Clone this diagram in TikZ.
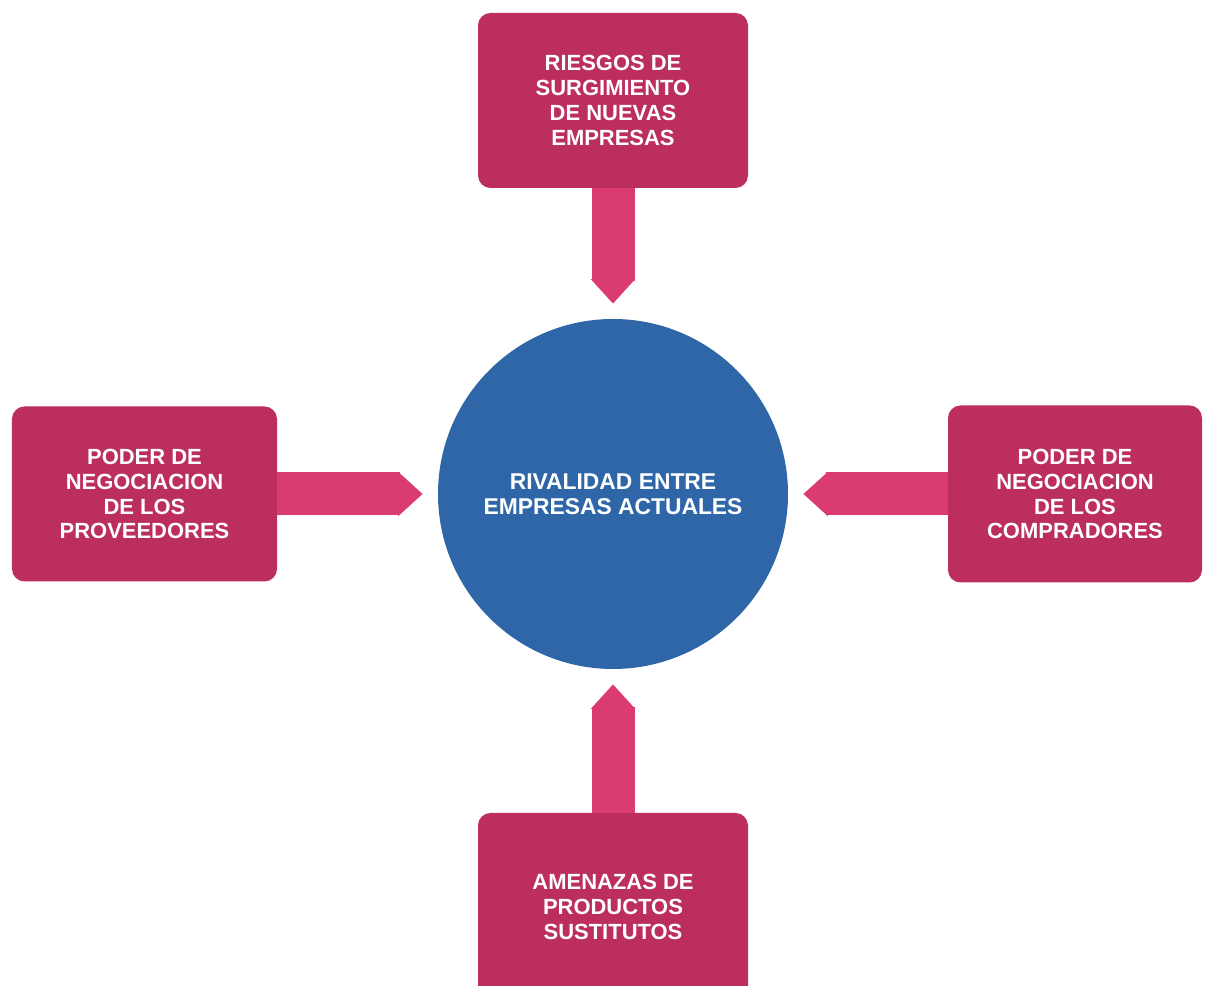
\documentclass[tikz,border=0pt]{standalone}
\usepackage{fontspec}
\setmainfont{Liberation Sans}
\usetikzlibrary{arrows.meta,positioning}
\definecolor{forcered}{HTML}{BC2E5C}
\definecolor{forcepink}{HTML}{DA3B70}
\definecolor{rivalblue}{HTML}{2F66A8}

\begin{document}
\begin{tikzpicture}[
    forcebox/.style={draw=none, fill=forcered, rounded corners=0.25cm, text=white,
        align=center, inner sep=0pt, font=\bfseries\fontsize{12.5}{14.2}\selectfont},
    force/.style={draw=forcepink, line width=0.86cm,
        -{Triangle[length=14pt, width=0pt 1]}, shorten >=0.3cm}
]
    % Riquadro
    \useasboundingbox (0,0) rectangle (24.12,19.72);
    \clip (0,0) rectangle (24.12,19.72);

    % Cerchio centrale
    \node[circle, fill=rivalblue, minimum size=7cm, inner sep=0pt, text=white, align=center,
        font=\bfseries\fontsize{13}{14.2}\selectfont] (rival) at (12.26,9.84)
        {RIVALIDAD ENTRE\\EMPRESAS ACTUALES};

    % Forze
    \node[forcebox, minimum width=5.4cm, minimum height=3.5cm] (entrants) at (12.26,17.71)
        {RIESGOS DE\\SURGIMIENTO\\DE NUEVAS\\EMPRESAS};
    \node[forcebox, minimum width=5.3cm, minimum height=3.5cm] (suppliers) at (2.89,9.84)
        {PODER DE\\NEGOCIACION\\DE LOS\\PROVEEDORES};
    \node[forcebox, minimum width=5.08cm, minimum height=3.54cm] (buyers) at (21.5,9.84)
        {PODER DE\\NEGOCIACION\\DE LOS\\COMPRADORES};
    \node[forcebox, minimum width=5.4cm, minimum height=3.74cm] (substitutes) at (12.26,1.59)
        {AMENAZAS DE\\PRODUCTOS\\SUSTITUTOS};

    % Frecce
    \draw[force] (entrants.south) -- (rival.north);
    \draw[force] (suppliers.east) -- (rival.west);
    \draw[force] (buyers.west) -- (rival.east);
    \draw[force] (substitutes.north) -- (rival.south);
\end{tikzpicture}
\end{document}
